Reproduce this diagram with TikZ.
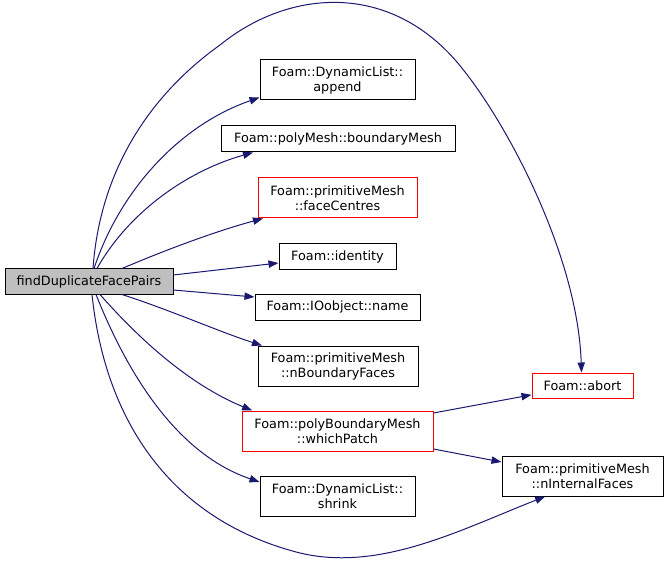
\documentclass[tikz,border=0pt]{standalone}
\usepackage{fontspec}
\setmainfont{DejaVu Sans}
\usetikzlibrary{arrows.meta}
\definecolor{edgeblue}{HTML}{191970}
\definecolor{mainfill}{HTML}{BFBFBF}
\definecolor{truncred}{HTML}{FF0000}
\tikzset{
  fn/.style={draw=black, line width=0.75pt, fill=white, inner sep=0pt, align=center,
    font=\fontsize{9.6pt}{11.25pt}\selectfont, minimum height=#1},
  fn/.default=19.5pt,
  trunc/.style={draw=truncred, fill=white, text=black},
  call/.style={draw=edgeblue, line width=0.75pt, -{Triangle[length=7.5pt,width=5.5pt]}, fill=none}
}
\begin{document}
\begin{tikzpicture}[x=0.75pt,y=-0.75pt]
\useasboundingbox (0,0) rectangle (668,563);
\node[fn=18.75pt, fill=mainfill, minimum width=126pt] (main) at (89,281.5) {findDuplicateFacePairs};
\node[fn=30pt, minimum width=116.25pt] (append) at (337.5,80) {Foam::DynamicList::\\append};
\node[fn, minimum width=175.5pt] (bmesh) at (338,139) {Foam::polyMesh::boundaryMesh};
\node[fn=30pt, trunc, minimum width=119.25pt] (fcent) at (337.5,198) {Foam::primitiveMesh\\::faceCentres};
\node[fn, minimum width=87.75pt] (ident) at (337.5,257) {Foam::identity};
\node[fn, minimum width=123.75pt] (name) at (337.5,307) {Foam::IOobject::name};
\node[fn=30pt, minimum width=120pt] (nbf) at (338,366) {Foam::primitiveMesh\\::nBoundaryFaces};
\node[fn=30pt, trunc, minimum width=143.25pt] (wpatch) at (337.5,431) {Foam::polyBoundaryMesh\\::whichPatch};
\node[fn=30pt, minimum width=116.25pt] (shrink) at (337.5,496) {Foam::DynamicList::\\shrink};
\node[fn=18.75pt, trunc, minimum width=75.75pt] (abort) at (582.5,385.5) {Foam::abort};
\node[fn=30pt, minimum width=120.75pt] (nif) at (582.5,476) {Foam::primitiveMesh\\::nInternalFaces};

% upper fan
\draw[call] ([xshift=3pt]main.north) .. controls (100,170) and (150,95) .. (220,45)
  .. controls (290,-12) and (395,-20) .. (465,72)
  .. controls (512,132) and (578,260) .. ([xshift=-0.75pt]abort.north);
\draw[call] ([xshift=3.75pt]main.north) .. controls (120,190) and (180,125) .. ([yshift=2.25pt]append.south west);
\draw[call] ([xshift=6pt]main.north) .. controls (130,210) and (190,170) .. ([xshift=-63.75pt]bmesh.south);
\draw[call] ([xshift=24.75pt]main.north) .. controls (170,248) and (220,230) .. ([xshift=-55.9pt]fcent.south);
\draw[call] ([yshift=4.9pt]main.east) -- ([yshift=-4.5pt]ident.west);
% lower fan
\draw[call] ([yshift=-6.4pt]main.east) -- ([yshift=7.5pt]name.west);
\draw[call] ([xshift=24.75pt]main.south) .. controls (170,310) and (220,332) .. ([xshift=-57pt]nbf.north);
\draw[call] ([xshift=8.25pt]main.south) .. controls (140,340) and (190,385) .. ([xshift=-64pt]wpatch.north);
\draw[call] ([xshift=5.25pt]main.south) .. controls (130,380) and (180,455) .. ([yshift=10.5pt]shrink.west);
\draw[call] ([xshift=2.25pt]main.south) .. controls (105,420) and (170,520) .. (300,553)
  .. controls (380,572) and (460,530) .. ([xshift=-28pt]nif.south);
% from whichPatch
\draw[call] ([yshift=13.5pt]wpatch.east) -- ([yshift=-7pt]abort.west);
\draw[call] ([yshift=-13.5pt]wpatch.east) -- ([yshift=10.5pt]nif.west);
\end{tikzpicture}
\end{document}
